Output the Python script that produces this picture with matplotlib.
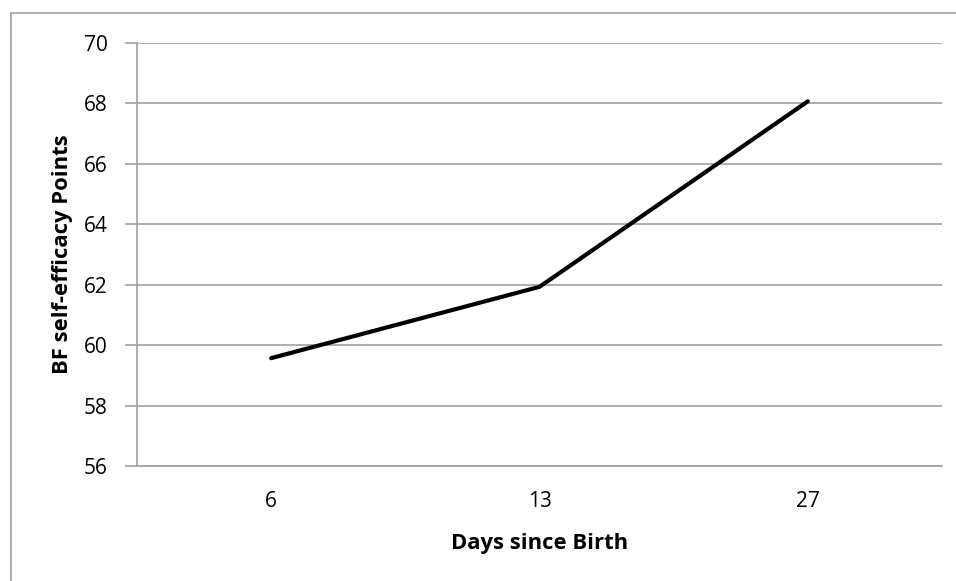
import matplotlib.pyplot as plt
from matplotlib.lines import Line2D

days = ["6", "13", "27"]
points = [59.57, 61.93, 68.07]
yticks = [56, 58, 60, 62, 64, 66, 68, 70]

plt.rcParams['font.family'] = ['Open Sans', 'DejaVu Sans']

fig = plt.figure(figsize=(9.56, 5.81), dpi=100)
ax = fig.add_axes([137 / 956, 1 - 466 / 581, 805 / 956, 423 / 581])

x = range(len(days))
ax.plot(x, points, color="black", lw=3, solid_capstyle="round")

ax.set_xlim(-0.5, len(days) - 0.5)
ax.set_ylim(56, 70)
ax.set_xticks(list(x))
ax.set_xticklabels(days)
ax.set_yticks(yticks)
ax.grid(axis="y", color="#a0a0a0", lw=1.2)
ax.set_axisbelow(True)

for s in ["top", "right"]:
    ax.spines[s].set_visible(False)
for s in ["left", "bottom"]:
    ax.spines[s].set_color("#a0a0a0")
    ax.spines[s].set_linewidth(1.2)

ax.tick_params(axis="y", length=9, width=1.2, color="#a0a0a0", pad=12, labelsize=15)
ax.tick_params(axis="x", length=0, pad=18, labelsize=15)

ax.set_ylabel("BF self-efficacy Points", fontsize=15.8, fontweight="bold", va="center")
ax.yaxis.set_label_coords(-0.093, 0.5)
ax.set_xlabel("Days since Birth", fontsize=15.8, fontweight="bold", va="center")
ax.xaxis.set_label_coords(0.5, -0.184)

# outer chart border
fig.add_artist(Line2D([11 / 956, 11 / 956], [0, 1 - 13 / 581], transform=fig.transFigure, color="#a0a0a0", lw=1.2))
fig.add_artist(Line2D([11 / 956, 1], [1 - 13 / 581, 1 - 13 / 581], transform=fig.transFigure, color="#a0a0a0", lw=1.2))

fig.savefig("out.png", dpi=100)
